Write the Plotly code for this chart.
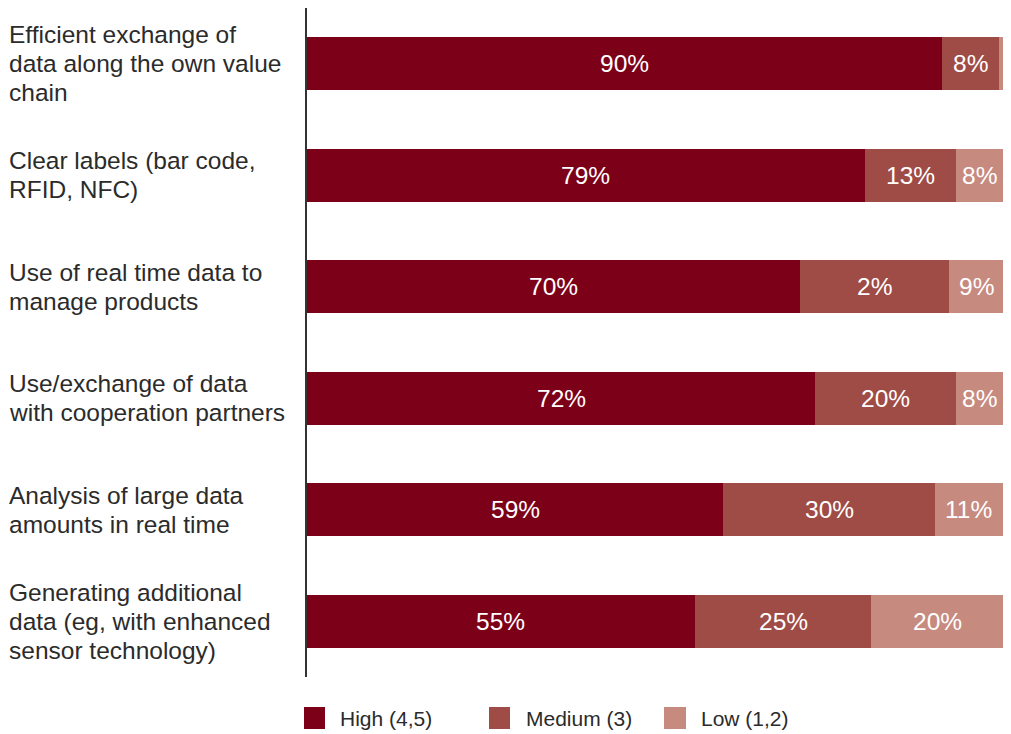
import plotly.graph_objects as go

# ---- data ----
categories = [
    "Efficient exchange of<br>data along the own value<br>chain",
    "Clear labels (bar code,<br>RFID, NFC)",
    "Use of real time data to<br>manage products",
    "Use/exchange of data<br>with cooperation partners",
    "Analysis of large data<br>amounts in real time",
    "Generating additional<br>data (eg, with enhanced<br>sensor technology)",
]
series_names = ["High (4,5)", "Medium (3)", "Low (1,2)"]
high = [91.2, 80.1, 70.9, 73.0, 59.8, 55.7]
medium = [8.2, 13.2, 21.4, 20.3, 30.4, 25.4]
low = [0.6, 6.7, 7.7, 6.7, 9.8, 18.9]
high_labels = ["90%", "79%", "70%", "72%", "59%", "55%"]
medium_labels = ["8%", "13%", "2%", "20%", "30%", "25%"]
low_labels = ["", "8%", "9%", "8%", "11%", "20%"]

colors = ["#7d0019", "#9f4b46", "#c78a7f"]
text_color = "#2b2b2b"
FONT = "Liberation Sans, Arial, Helvetica, sans-serif"

OFF = 8  # default page body margin
VIS_RIGHT = 1003  # visible right edge of the page content
W, H = VIS_RIGHT - OFF, 734 - OFF
# plot area in page pixels: x 307..1003, y 8..677
ML, MR = 307 - OFF, 0
MT = 8 - OFF
MB = H - (677 - OFF)
PW, PH = W - ML - MR, H - MT - MB


def px_x(x):
    return (x - OFF - ML) / PW


def px_y(y):
    return (H - MB - (y - OFF)) / PH


fig = go.Figure()
annotations = []
series = [high, medium, low]
series_labels = [high_labels, medium_labels, low_labels]
base = [0.0] * len(categories)
for name, vals, labels, col in zip(series_names, series, series_labels, colors):
    fig.add_trace(go.Bar(
        y=list(range(len(categories))), x=vals, orientation="h", name=name,
        marker=dict(color=col, line=dict(width=0)),
        cliponaxis=False, showlegend=False, hoverinfo="skip",
    ))
    for i, (v, lab) in enumerate(zip(vals, labels)):
        if lab:
            annotations.append(dict(
                xref="x", yref="y", x=base[i] + v / 2, y=i, text=lab, showarrow=False,
                xanchor="center", yanchor="middle",
                font=dict(family=FONT, size=24.5, color="white"),
            ))
        base[i] += v

LINE_H = 29
for i, cat in enumerate(categories):
    lines = cat.split("<br>")
    n = len(lines)
    for j, line in enumerate(lines):
        annotations.append(dict(
            xref="paper", yref="y", x=px_x(7), y=i, xanchor="left", yanchor="middle",
            text=line, showarrow=False, yshift=((n - 1) / 2 - j) * LINE_H,
            font=dict(family=FONT, size=24.5, color=text_color),
        ))

shapes = [dict(type="line", xref="paper", yref="paper", x0=px_x(306), x1=px_x(306),
               y0=px_y(677), y1=px_y(7), line=dict(color="#333333", width=2))]

legend_sq = [(304, 325), (489, 510), (664, 686)]
legend_tx = [338, 524, 699]
for (x0, x1), tx, name, col in zip(legend_sq, legend_tx, series_names, colors):
    shapes.append(dict(type="rect", xref="paper", yref="paper",
                       x0=px_x(x0), x1=px_x(x1), y0=px_y(729), y1=px_y(707),
                       fillcolor=col, line=dict(width=0)))
    annotations.append(dict(xref="paper", yref="paper", x=px_x(tx), y=px_y(718),
                            xanchor="left", yanchor="middle", text=name, showarrow=False,
                            font=dict(family=FONT, size=21, color=text_color)))

fig.update_layout(
    barmode="stack", bargap=0.525,
    width=W, height=H,
    margin=dict(l=ML, r=MR, t=MT, b=MB, pad=0),
    paper_bgcolor="white", plot_bgcolor="white",
    xaxis=dict(range=[0, 100], visible=False, fixedrange=True),
    yaxis=dict(range=[5.5, -0.5], visible=False, fixedrange=True),
    annotations=annotations, shapes=shapes,
    font=dict(family=FONT, color=text_color),
    showlegend=False,
)

fig.write_html("out.html")
